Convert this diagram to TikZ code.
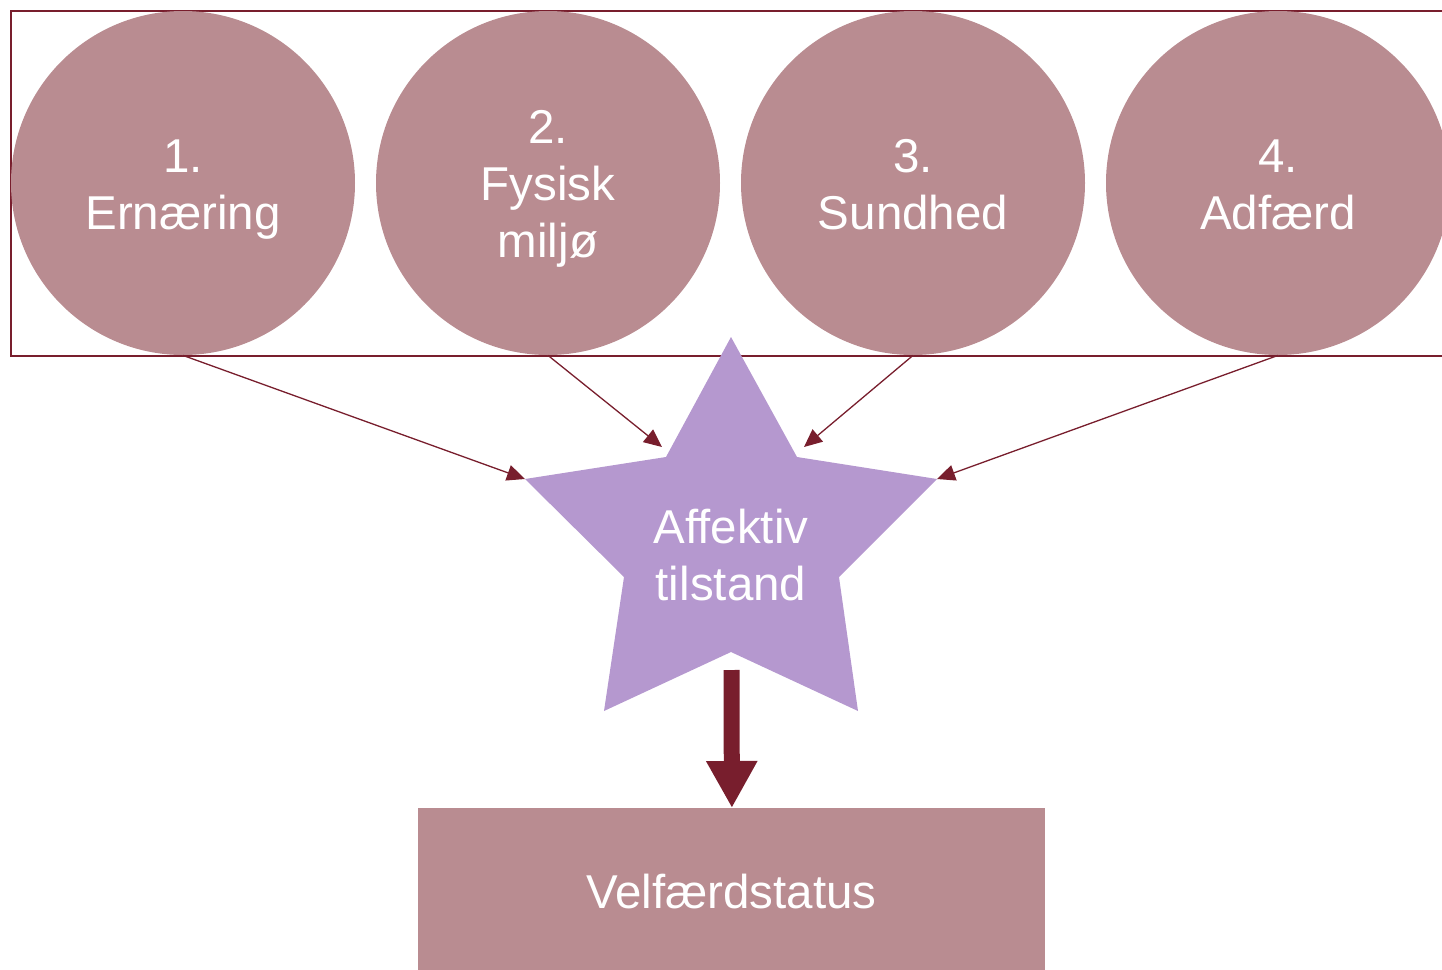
\documentclass[tikz,border=0pt]{standalone}
\usepackage{fontspec}
\setmainfont{Liberation Sans}
\usetikzlibrary{arrows.meta}
\definecolor{rose}{HTML}{B98C91}
\definecolor{lilac}{HTML}{B598CF}
\definecolor{wine}{HTML}{781E2D}
\tikzset{
  factor/.style={circle, fill=rose, minimum size=172pt, inner sep=0pt},
  lbl/.style={text=white, align=center, inner sep=0pt, font=\fontsize{23.75}{28.5}\selectfont},
  thin arrow/.style={draw=wine, line width=0.65pt, -{Triangle[length=9pt,width=8pt]}},
  big arrow/.style={draw=wine, line width=8pt, -{Triangle[length=23.5pt,width=24pt]}},
}
\begin{document}
\begin{tikzpicture}[x=0.5pt,y=-0.5pt]
\useasboundingbox (0,0) rectangle (1442,970);
\clip (0,0) rectangle (1442,970);
% frame
\node[draw=wine, line width=0.75pt, minimum width=725pt, minimum height=172.5pt, inner sep=0pt, anchor=north west] (frame) at (10,10) {};
% circles
\node[factor] (c1) at (183,183) {};
\node[factor] (c2) at (548,183) {};
\node[factor] (c3) at (913,183) {};
\node[factor] (c4) at (1278,183) {};
\node[lbl, anchor=base] (t1) at (183,229) {1.\\Ernæring};
\node[lbl, anchor=base] (t2) at (548,257) {2.\\Fysisk\\miljø};
\node[lbl, anchor=base] (t3) at (913,229) {3.\\Sundhed};
\node[lbl, anchor=base] (t4) at (1278,229) {4.\\Adfærd};
% star
\coordinate (sTop) at (731,337);
\coordinate (sIL) at (666,457);
\coordinate (sL) at (525,479);
\coordinate (sILL) at (624,577);
\coordinate (sBL) at (604,711);
\coordinate (sIB) at (731,652);
\coordinate (sBR) at (858,711);
\coordinate (sIRR) at (839,577);
\coordinate (sR) at (937,479);
\coordinate (sIR) at (797,457);
\fill[lilac] (sTop) -- (sIR) -- (sR) -- (sIRR) -- (sBR) -- (sIB) -- (sBL) -- (sILL) -- (sL) -- (sIL) -- cycle;
\node[lbl, anchor=base] (star) at (731,600) {Affektiv\\tilstand};
% arrow targets
\coordinate (a1) at (c1.south);
\coordinate (a2) at (c2.south);
\coordinate (a3) at (c3.south);
\coordinate (a4) at (c4.south);
\coordinate (e2) at (662,447);
\coordinate (e3) at (804,447);
\draw[thin arrow] (a1) -- (sL);
\draw[thin arrow] (a2) -- (e2);
\draw[thin arrow] (a3) -- (e3);
\draw[thin arrow] (a4) -- (sR);
% result box
\node[fill=rose, minimum width=313.5pt, minimum height=90pt, inner sep=0pt, anchor=north west] (vel) at (418,808) {};
\node[lbl, anchor=base] (veltxt) at (731.5,908) {Velfærdstatus};
\coordinate (bstart) at (731.5,670);
\draw[big arrow] (bstart) -- (vel.north);
\end{tikzpicture}
\end{document}
